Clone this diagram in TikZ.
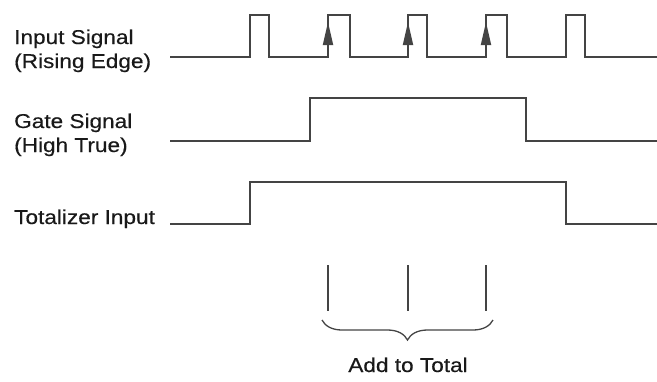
\documentclass[tikz,border=0pt]{standalone}
\usepackage{fontspec}
\newfontfamily\lblfont[FakeStretch=1.13,FakeBold=0.4]{Liberation Sans}
\usetikzlibrary{arrows.meta,decorations.pathreplacing}
\definecolor{sigGray}{HTML}{444444}

\begin{document}
\begin{tikzpicture}[x=1pt,y=-1pt,font=\lblfont\fontsize{20}{24}\selectfont,>=Triangle]
\useasboundingbox (0,0) rectangle (657,381);
\tikzset{wave/.style={sigGray,line width=1.8pt,line join=miter},
  thin/.style={sigGray,line width=1.3pt},
  lbl/.style={anchor=base west,inner sep=0pt,text=black!90}}
\def\xs{170}\def\xe{657}
% labels
\node[lbl] (inTop) at (14,44) {Input Signal};
\node[lbl] (inBot) at (14,68) {(Rising Edge)};
\node[lbl] (gateTop) at (14,128) {Gate Signal};
\node[lbl] (gateBot) at (14,152) {(High True)};
\node[lbl] (totLbl) at (14,224) {Totalizer Input};
% input pulses
\draw[wave] (\xs,57) \foreach \a/\b in {250/269,328/350,408/427,486/507,566/585}
  {-- (\a,57) -- (\a,15) -- (\b,15) -- (\b,57)} -- (\xe,57);
\foreach \a in {328,408,486}
  {\draw[wave,-{Triangle[length=23pt,width=10pt]}] (\a,57) -- (\a,22);}
% gate and totalizer
\draw[wave] (\xs,141) -- (310,141) -- (310,98) -- (526,98) -- (526,141) -- (\xe,141);
\draw[wave] (\xs,224) -- (250,224) -- (250,182) -- (566,182) -- (566,224) -- (\xe,224);
% counted edges
\foreach \a in {328,408,486} {\draw[thin] (\a,265) -- (\a,311);}
\draw[thin,decorate,decoration={brace,mirror,amplitude=20pt}] (322,320) -- (493,320);
\node[anchor=base,inner sep=0pt,text=black!90] (addLbl) at (408,372) {Add to Total};
\end{tikzpicture}
\end{document}
